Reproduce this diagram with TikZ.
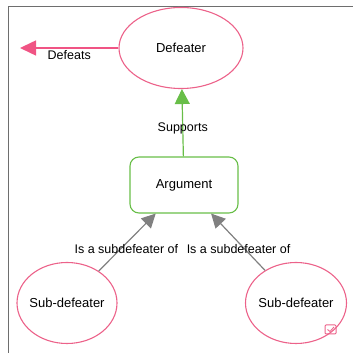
\documentclass[tikz,border=0pt]{standalone}
\usepackage{fontspec}
\setmainfont{Liberation Sans}
\usetikzlibrary{arrows.meta,shapes.geometric}

\definecolor{defeatcolor}{RGB}{236, 98, 138}
\definecolor{arrowpink}{RGB}{240, 84, 132}
\definecolor{supportcolor}{RGB}{104, 190, 72}
\definecolor{subcolor}{RGB}{128, 128, 128}
\definecolor{framecolor}{RGB}{110, 110, 110}

\begin{document}
\begin{tikzpicture}[x=1pt, y=1pt,
    claim/.style={draw = defeatcolor, ellipse, line width=1.1pt, inner ysep=0pt, inner xsep=-3.5pt,
        font=\fontsize{13}{15}\selectfont},
    argbox/.style={draw = supportcolor, rectangle, rounded corners=9pt, line width=1.1pt,
        minimum width=108pt, minimum height=56pt, font=\fontsize{13}{15}\selectfont},
    defeats/.style={draw, line width=1.5pt, arrowpink, -{Triangle[length=16pt,width=15pt]}},
    supports/.style={draw, line width=1.2pt, supportcolor, -{Triangle[length=15pt,width=15pt]}},
    subof/.style={draw, line width=1.2pt, subcolor, -{Triangle[length=14pt,width=14pt]}},
    edgelabel/.style={text = black, inner sep=1pt, font=\fontsize{12.5}{14}\selectfont}
    ]
    \useasboundingbox (0,0) rectangle (353,353);

    % Frame
    \draw[framecolor, line width=1pt] (353,346) -- (8,346) -- (8,0);

    % Define vertices
    \node[claim, minimum width=124pt, minimum height=81pt] (defeater) at (181,305) {Defeater};
    \node[argbox] (argument) at (184,168) {Argument};
    \node[claim, minimum width=100pt, minimum height=81pt] (subA) at (67,50) {Sub-defeater};
    \node[claim, minimum width=101pt, minimum height=81pt] (subB) at (296,50) {Sub-defeater};
    \coordinate (target) at (20,305);

    % Define edges
    \draw[defeats] (defeater) -- node[edgelabel, below=1pt, pos=0.5] {Defeats} (target);
    \draw[supports] (argument) -- node[edgelabel, pos=0.42] {Supports} (defeater);
    \draw[subof] (subA) -- node[edgelabel, pos=0.38, xshift=6pt] {Is a subdefeater of} (argument);
    \draw[subof] (subB) -- node[edgelabel, pos=0.38, xshift=-6pt] {Is a subdefeater of} (argument);

    % Check box
    \draw[defeatcolor, line width=1pt, rounded corners=1pt] (325,19) rectangle (336,28);
    \draw[defeatcolor, line width=0.9pt] (327.5,23.5) -- (330,21.5) -- (334,26);
\end{tikzpicture}
\end{document}
